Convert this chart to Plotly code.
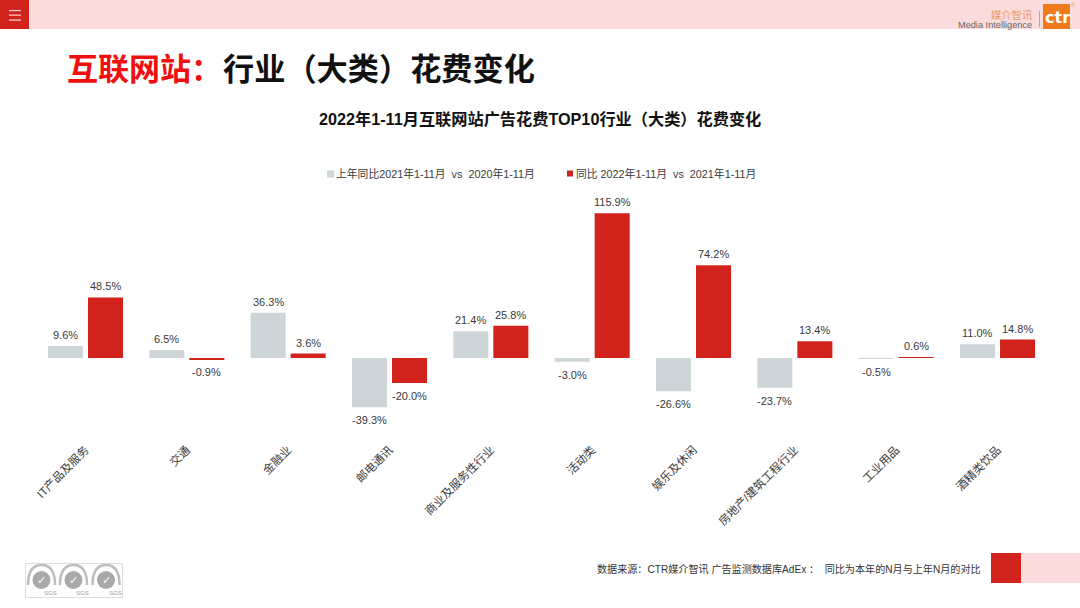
import plotly.graph_objects as go

# 数据
categories = ['IT产品及服务', '交通', '金融业', '邮电通讯', '商业及服务性行业',
              '活动类', '娱乐及休闲', '房地产/建筑工程行业', '工业用品', '酒精类饮品']
last_year = [9.6, 6.5, 36.3, -39.3, 21.4, -3.0, -26.6, -23.7, -0.5, 11.0]
this_year = [48.5, -0.9, 3.6, -20.0, 25.8, 115.9, 74.2, 13.4, 0.6, 14.8]

last_name = '上年同比2021年1-11月  vs  2020年1-11月'
this_name = '同比 2022年1-11月  vs  2021年1-11月'

W, H = 1080, 608
FONT = 'Liberation Sans, Noto Sans CJK SC'
RED = '#D2221C'
GREY = '#CDD5D8'
PINK = '#FADCDC'
TEXT = '#3A3A3A'


def px(x):
    return x / W


def py(y):
    return 1 - y / H


def box(x0, y0, x1, y1, color, line=None):
    return dict(type='rect', xref='paper', yref='paper',
                x0=px(x0), x1=px(x1), y0=py(y0), y1=py(y1),
                fillcolor=color, line=dict(color=line or color, width=1 if line else 0), layer='below')


def note(x, y, text, size, color=TEXT, family=FONT, anchor='left'):
    return dict(xref='paper', yref='paper', x=px(x), y=py(y), text=text, showarrow=False,
                xanchor=anchor, yanchor='middle', borderpad=0, borderwidth=0,
                font=dict(size=size, color=color, family=family))


def bar_label(cat, val, shift):
    # 柱外标签：正值在上，负值在下
    return dict(x=cat, y=val, xref='x', yref='y', text=f'{val:.1f}%', showarrow=False,
                xshift=shift, yshift=11 if val >= 0 else -13, yanchor='middle', borderpad=0,
                font=dict(size=11, color=TEXT, family=FONT))


fig = go.Figure()
fig.add_trace(go.Bar(x=categories, y=last_year, name=last_name, marker_color=GREY, marker_line_width=0))
fig.add_trace(go.Bar(x=categories, y=this_year, name=this_name, marker_color=RED, marker_line_width=0))

# 页面装饰
shapes = [
    box(0, 0, W, 29, PINK),
    box(0, 0, 29, 29, RED),
    box(991, 553, 1021, 583, RED),
    box(1021, 553, W, 583, PINK),
    box(1043, 4, 1070, 29, '#EE7A1A'),
    box(1039, 11, 1040, 27, '#B0A8A8'),
    box(25.5, 563.5, 122.5, 597.5, 'white', '#DDDDDD'),
    box(327, 170.5, 334, 177.5, GREY),
    box(567, 170.5, 573, 176.5, RED),
]
for y in (10, 14.5, 19.5):
    shapes.append(box(9, y, 21, y + 1.2, '#F8D8D6'))

# SGS 认证标志
for cx in (41.5, 73.5, 106):
    shapes.append(dict(type='circle', xref='paper', yref='paper', layer='above',
                       x0=px(cx - 9), x1=px(cx + 9), y0=py(589), y1=py(571),
                       fillcolor='#A9A9A9', line=dict(width=0)))
    shapes.append(dict(type='path', xref='paper', yref='paper', layer='above',
                       path=f'M {px(cx - 13.5)} {py(585)} Q {px(cx - 13.5)} {py(565)} {px(cx)} {py(565)} '
                            f'Q {px(cx + 13.5)} {py(565)} {px(cx + 13.5)} {py(585)}',
                       line=dict(color='#BDBDBD', width=2.5)))

annotations = [
    note(67, 70, '<b>互联网站：</b>', 31, '#F00F0F'),
    note(222.5, 70, '<b>行业（大类）花费变化</b>', 31.2, '#111111'),
    note(540, 119, '<b>2022年1-11月互联网站广告花费TOP10行业（大类）花费变化</b>', 16.2, '#111111', FONT, 'center'),
    note(597, 569, '数据来源：CTR媒介智讯 广告监测数据库AdEx ：  同比为本年的N月与上年N月的对比', 10.1, '#333333'),
    note(1032, 15, '媒介智讯', 10.3, '#EE9A60', FONT, 'right'),
    note(1032, 25, 'Media Intelligence', 9.2, '#666666', FONT, 'right'),
    note(1057, 18, '<b>ctr</b>', 16, 'white', 'DejaVu Sans', 'center'),
    note(1073, 5, '®', 6, '#EE9A60', FONT, 'center'),
    note(336, 174, last_name.replace('  ', '&nbsp;&nbsp;'), 10.8, TEXT),
    note(576, 174, this_name.replace('  ', '&nbsp;&nbsp;'), 10.8, TEXT),
]
for cx in (41.5, 73.5, 106):
    annotations.append(note(cx + 9, 593, 'SGS', 6, '#999999', FONT, 'center'))
    annotations.append(note(cx, 580, '✓', 11, 'white', 'DejaVu Sans', 'center'))
for cat, a, b in zip(categories, last_year, this_year):
    annotations.append(bar_label(cat, a, -20))
    annotations.append(bar_label(cat, b, 20))

fig.update_layout(
    width=W, height=H, autosize=False,
    margin=dict(l=0, r=0, t=0, b=0),
    paper_bgcolor='white', plot_bgcolor='white',
    barmode='group', bargap=0.21, bargroupgap=0.125,
    showlegend=False,
    shapes=shapes, annotations=annotations,
    font=dict(family=FONT, color=TEXT),
)
fig.update_xaxes(domain=[px(34.8), px(1048.2)], anchor='y', showgrid=False, zeroline=False, showline=False,
                 automargin=False, ticks='', tickangle=-45,
                 tickfont=dict(size=11.5, color=TEXT, family=FONT), fixedrange=True)
fig.update_yaxes(domain=[py(440), py(190)], range=[-65.6, 134.4], visible=False, fixedrange=True, automargin=False)

# 去掉页面默认边距
fig.write_html('out.html', config=dict(displayModeBar=False),
               post_script="document.body.style.margin='0';document.documentElement.style.overflow='hidden';")
